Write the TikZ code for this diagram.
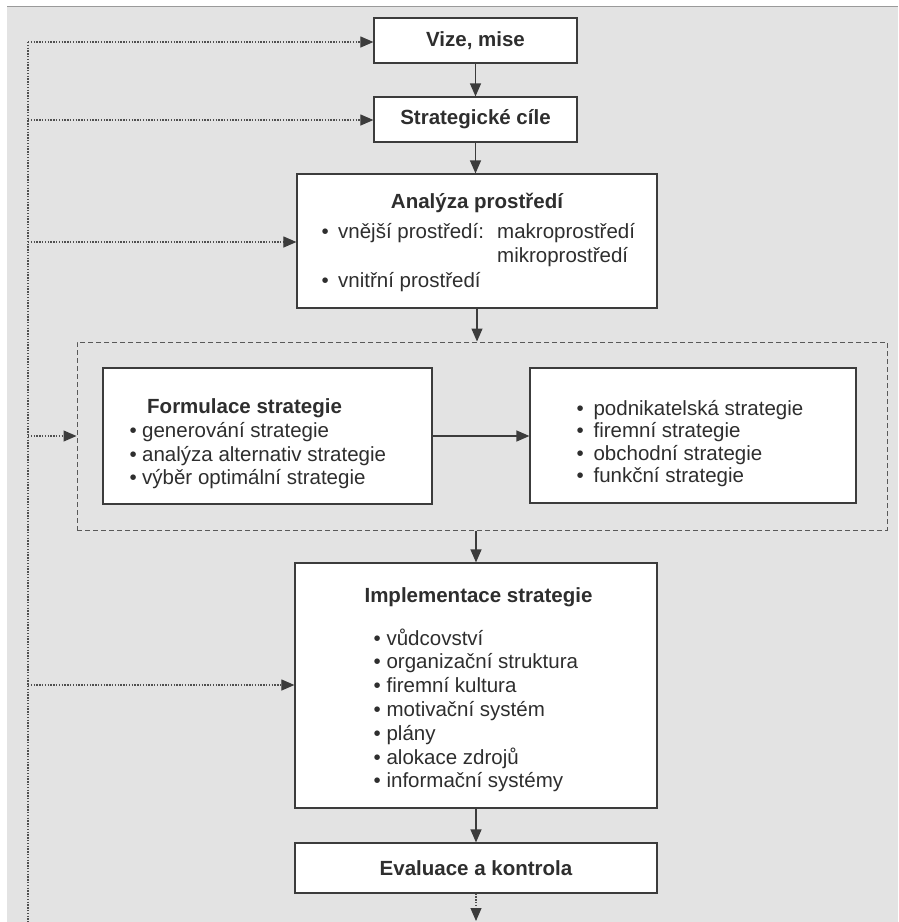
\documentclass[tikz,border=0pt]{standalone}
\usepackage{fontspec}
\setmainfont{Liberation Sans}
\usetikzlibrary{arrows.meta}
\definecolor{bgc}{HTML}{E3E3E3}
\definecolor{txt}{HTML}{2E2E2E}
\definecolor{lnc}{HTML}{3C3C3C}
\definecolor{edge}{HTML}{9A9A9A}
\newcommand{\bl}[1]{\makebox[#1][l]{•}}
\tikzset{
  x=1pt, y=-1pt,
  every node/.style={text=txt, font=\fontsize{20.5}{24}\selectfont},
  box/.style={draw=lnc, line width=1.2pt, fill=white, inner sep=0pt},
  grp/.style={draw=lnc!85, line width=1pt, dash pattern=on 5pt off 3pt},
  flow/.style={draw=lnc, line width=1.2pt, -{Triangle[length=13pt,width=11pt]}},
  fb/.style={draw=lnc!90, line width=1.1pt, dash pattern=on 1.4pt off 1.4pt},
  fbarrow/.style={fb, -{Triangle[length=13pt,width=11pt,color=lnc]}},
  ttl/.style={font=\fontsize{20.5}{24}\selectfont\bfseries, inner sep=0pt},
  itm/.style={anchor=base west, inner sep=0pt}
}
\begin{document}
\begin{tikzpicture}
\useasboundingbox (0,0) rectangle (898,922);
\fill[white] (0,0) rectangle (898,922);
\fill[bgc] (7,6) rectangle (898,922);
\draw[edge, line width=1.5pt] (7,6.5) -- (898,6.5);

% boxes
\node[box, minimum width=203pt, minimum height=45pt] (vize) at (475.5,40.5) {};
\node[box, minimum width=203pt, minimum height=45pt] (cile) at (475.5,119.5) {};
\node[box, minimum width=360pt, minimum height=134pt] (analyza) at (477,241) {};
\node[grp, minimum width=810pt, minimum height=188pt, inner sep=0pt] (grp) at (482,436) {};
\node[box, minimum width=329pt, minimum height=136pt] (form) at (267.5,436) {};
\node[box, minimum width=326pt, minimum height=135pt] (typy) at (693,435.5) {};
\node[box, minimum width=362pt, minimum height=245pt] (impl) at (476,685.5) {};
\node[box, minimum width=362pt, minimum height=50pt] (eval) at (476,868) {};

% texts
\node[ttl] (tvize) at (vize.center) {Vize, mise};
\node[ttl] (tcile) at (cile.center) {Strategické cíle};
\node[ttl, anchor=base] (tanal) at (477,208) {Analýza prostředí};
\node[itm] (a1) at (321.4,238) {\bl{16.6pt}vnější prostředí:};
\node[itm] (a2) at (497,238) {makroprostředí};
\node[itm] (a3) at (497,262) {mikroprostředí};
\node[itm] (a4) at (321.4,287) {\bl{16.6pt}vnitřní prostředí};

\node[ttl, anchor=base west] (tform) at (147,413) {Formulace strategie};
\node[itm] (f1) at (129.4,437.5) {\bl{12.6pt}generování strategie};
\node[itm] (f2) at (129.4,461) {\bl{12.6pt}analýza alternativ strategie};
\node[itm] (f3) at (129.4,484.5) {\bl{12.6pt}výběr optimální strategie};

\node[itm] (s1) at (576.4,415) {\bl{17pt}podnikatelská strategie};
\node[itm] (s2) at (576.4,437.5) {\bl{17pt}firemní strategie};
\node[itm] (s3) at (576.4,460) {\bl{17pt}obchodní strategie};
\node[itm] (s4) at (576.4,482.5) {\bl{17pt}funkční strategie};

\node[ttl, anchor=base] (timpl) at (478.5,602) {Implementace strategie};
\node[itm] (i1) at (373.4,645) {\bl{13pt}vůdcovství};
\node[itm] (i2) at (373.4,668.8) {\bl{13pt}organizační struktura};
\node[itm] (i3) at (373.4,692.6) {\bl{13pt}firemní kultura};
\node[itm] (i4) at (373.4,716.4) {\bl{13pt}motivační systém};
\node[itm] (i5) at (373.4,740.2) {\bl{13pt}plány};
\node[itm] (i6) at (373.4,764) {\bl{13pt}alokace zdrojů};
\node[itm] (i7) at (373.4,787.8) {\bl{13pt}informační systémy};

\node[ttl] (teval) at (eval.center) {Evaluace a kontrola};

% main flow
\draw[flow] (vize.south) -- (cile.north);
\draw[flow] (cile.south) -- (cile.south |- analyza.north);
\draw[flow] (analyza.south) -- (analyza.south |- grp.north);
\draw[flow] (form.east) -- (typy.west |- form.east);
\draw[flow] (impl.north |- grp.south) -- (impl.north);
\draw[flow] (impl.south) -- (eval.north);
\coordinate (bot) at (476,921);
\draw[fbarrow] (eval.south) -- (bot);

% feedback loop
\coordinate (ftop) at (28,42);
\coordinate (fbot) at (28,922);
\draw[fb] (ftop) -- (fbot);
\draw[fbarrow] (ftop) -- (vize.west |- ftop);
\draw[fbarrow] (28,120) -- (cile.west |- 0,120);
\draw[fbarrow] (28,242) -- (analyza.west |- 0,242);
\draw[fbarrow] (28,436) -- (grp.west);
\draw[fbarrow] (28,685) -- (impl.west |- 0,685);
\end{tikzpicture}
\end{document}
